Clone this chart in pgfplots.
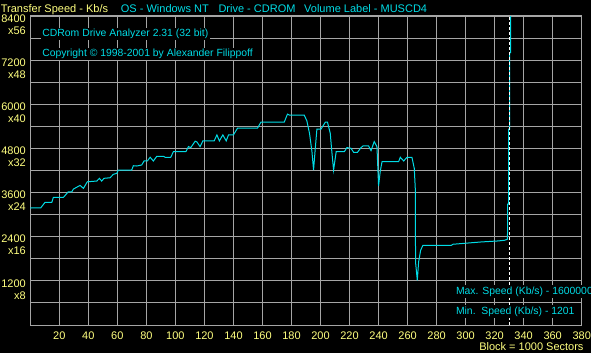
\documentclass[border=0pt]{standalone}
\usepackage{pgfplots}
\pgfplotsset{compat=1.18}
\usepackage{fontspec}
\setmainfont{Liberation Sans}
\definecolor{cy}{RGB}{0,220,230}
\definecolor{yl}{RGB}{255,255,128}
\definecolor{gr}{RGB}{165,165,165}
\begin{document}
\fontsize{11bp}{12bp}\selectfont
\begin{tikzpicture}[x=1bp,y=1bp]
\fill[black] (0,0) rectangle (591,353);
\useasboundingbox (0,0) rectangle (591,353);
\begin{axis}[at={(30.3bp,28bp)}, anchor=south west, scale only axis,
  width=551.4bp, height=309bp,
  xmin=0, xmax=380, ymin=0, ymax=8400,
  xtick={20,40,...,380},
  xticklabels={20,40,60,80,100,120,140,160,180,200,220,240,260,280,300,320,340,360,380},
  ytick={1200,2400,...,8400},
  yticklabels={{1200\\x8},{2400\\x16},{3600\\x24},{4800\\x32},{6000\\x40},{7200\\x48},{8400\\x56}},
  minor ytick={600,1800,...,7800},
  grid=both,
  major grid style={gr, line width=1bp},
  minor grid style={gr, line width=1bp},
  axis line style={gr, line width=1bp},
  major tick length=0pt, minor tick length=0pt,
  tick label style={font=\fontsize{11bp}{12bp}\selectfont, text=yl, inner sep=0pt},
  xticklabel style={anchor=base, yshift=-14bp},
  yticklabel style={anchor=north east, align=right, xshift=-4.3bp, yshift=1.6bp},
]
\addplot[cy, line width=1bp] coordinates {
(0,3169)(0.5,3185)(7.2,3185)(10.1,3332)(14.8,3332)(15.9,3469)(22.8,3469)
(26.2,3621)(28.6,3621)(29.7,3695)(34.3,3796)(36.6,3714)(39.3,3894)(45.8,3913)
(47.6,3987)(49.2,3913)(50.8,3987)(55.0,4003)(57.2,4096)(59.6,4123)(60.7,4213)
(69.9,4213)(71.0,4330)(73.4,4322)(76.8,4350)(78.4,4459)(80.7,4459)(82.6,4560)
(84.8,4459)(87.2,4587)(91.7,4587)(92.9,4560)(96.8,4560)(98.6,4712)(107.2,4712)
(109.0,4849)(110.6,4822)(113.6,4996)(114.8,4977)(117.0,4849)(118.9,5004)
(126.7,5004)(128.6,5168)(130.3,5004)(132.7,5168)(135.0,5004)(136.6,5168)
(140.0,5168)(142.8,5350)(156.6,5350)(158.9,5514)(175.0,5514)(177.2,5732)
(178.6,5705)(188.8,5705)(190.6,5549)(192.4,5214)(194.1,4712)(195.2,4213)
(196.4,4805)(197.5,5323)(200.3,5323)(203.3,5514)(204.8,5514)(206.7,5214)
(207.9,4669)(209.0,4213)(210.8,4712)(216.4,4712)(218.2,4822)(221.0,4805)
(222.8,4696)(225.5,4696)(227.9,4822)(229.3,4868)(233.1,4868)(234.8,4740)
(237.0,4985)(238.9,4849)(240.0,3785)(241.2,4186)(242.4,4440)(253.8,4440)
(255.0,4560)(257.3,4459)(259.6,4560)(263.0,4560)(264.6,4260)(265.3,3714)
(265.5,1704)(266.7,1214)(267.6,1713)(269.0,2032)(270.6,2168)(290.2,2168)
(291.3,2195)(310.8,2258)(322.4,2285)(326.9,2304)(328.8,2332)(329.0,2850)
(329.0,3286)(329.7,3286)(329.7,5323)(330.4,5323)(330.4,7404)(331.0,7404)(331.0,9500)
};
\addplot[white, line width=1bp, dash pattern=on 3bp off 2bp] coordinates {(330.3,0)(330.3,8400)};
\end{axis}
\node[anchor=base west, inner sep=0pt, text=yl] at (0.7,340.3) {Transfer Speed - Kb/s};
\node[anchor=base west, inner sep=0pt, text=cy] at (120.7,340.3) {OS - Windows NT};
\node[anchor=base west, inner sep=0pt, text=cy] at (218.3,340.3) {Drive - CDROM};
\node[anchor=base west, inner sep=0pt, text=cy] at (304,340.3) {Volume Label - MUSCD4};
\begin{scope}[every node/.style={font=\fontsize{10.4bp}{12bp}\selectfont}]
\node[anchor=base west, inner sep=1.5bp, fill=black, text=cy] at (40.7,316.3) {CDRom Drive Analyzer 2.31 (32 bit)};
\node[anchor=base west, inner sep=1.5bp, fill=black, text=cy] at (40.7,296.3) {Copyright © 1998-2001 by Alexander Filippoff};
\node[anchor=base west, inner sep=1.5bp, fill=black, text=cy] at (454.3,59) {Max. Speed (Kb/s) - 1600000};
\node[anchor=base west, inner sep=1.5bp, fill=black, text=cy] at (454.3,39) {Min.\ \ Speed (Kb/s) - 1201};
\end{scope}
\node[anchor=base east, inner sep=0pt, text=yl] at (583.7,2.3) {Block = 1000 Sectors};
\end{tikzpicture}
\end{document}
